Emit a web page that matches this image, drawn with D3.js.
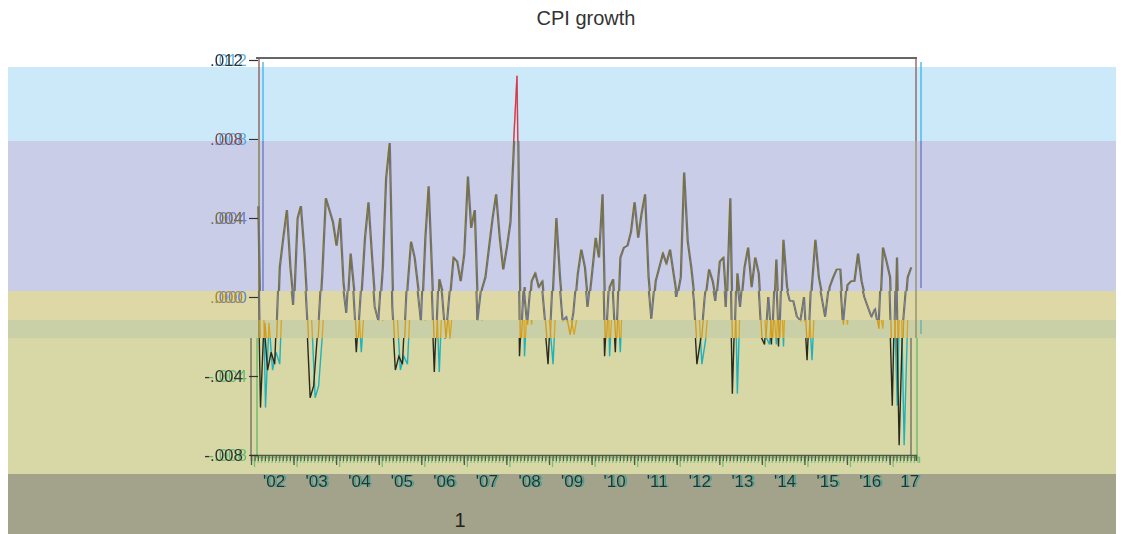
<!DOCTYPE html>
<html lang="en">
	<head>
		<meta charset="utf-8">
		<title>CPI growth</title>
		<script type="text/javascript" src="https://cdn.jsdelivr.net/npm/d3@7"></script>
		<style type="text/css">
			body { margin: 0; background: #fff; }
			text { font-family: "Liberation Sans", Arial, sans-serif; }
		</style>
	</head>
	<body>
		<script type="text/javascript">
			//Width and height
			var w = 1126;
			var h = 534;

			//Monthly observations, first one is March 2002
			var firstMonth = new Date(2002, 2, 1);

			//CPI growth, month on month
			var cpiGrowth = [
				0.0046, -0.0056, -0.0013, -0.0037, -0.0028, -0.0034, 0.0015, 0.0030, 0.0044, 0.0015,
				-0.0004, 0.0040, 0.0046, 0.0022, -0.0010, -0.0051, -0.0045, -0.0020, 0.0012, 0.0050,
				0.0044, 0.0038, 0.0026, 0.0040, 0.0007, -0.0008, 0.0022, 0.0003, -0.0028, 0.0000,
				0.0030, 0.0048, 0.0020, -0.0005, -0.0012, 0.0015, 0.0060, 0.0078, -0.0005, -0.0037,
				-0.0030, -0.0034, 0.0005, 0.0028, 0.0020, 0.0005, -0.0012, 0.0030, 0.0056, 0.0010,
				-0.0038, 0.0009, 0.0002, -0.0021, 0.0000, 0.0020, 0.0018, 0.0008, 0.0022, 0.0061,
				0.0035, 0.0044, -0.0012, 0.0004, 0.0010, 0.0025, 0.0040, 0.0052, 0.0030, 0.0014,
				0.0025, 0.0038, 0.0076, 0.0112, -0.0030, 0.0005, -0.0014, 0.0008, 0.0012, 0.0005,
				0.0008, -0.0012, -0.0034, 0.0005, 0.0040, 0.0010, -0.0012, -0.0010, -0.0019, -0.0008,
				0.0012, 0.0024, 0.0015, -0.0005, 0.0012, 0.0030, 0.0020, 0.0052, -0.0030, 0.0005,
				0.0009, -0.0028, 0.0020, 0.0025, 0.0026, 0.0033, 0.0048, 0.0030, 0.0042, 0.0052,
				0.0010, -0.0011, 0.0008, 0.0015, 0.0022, 0.0017, 0.0024, 0.0012, 0.0000, 0.0010,
				0.0063, 0.0028, 0.0015, -0.0002, -0.0034, -0.0022, 0.0000, 0.0014, 0.0008, -0.0002,
				0.0018, 0.0020, -0.0005, 0.0050, -0.0049, 0.0012, -0.0005, 0.0015, 0.0025, 0.0005,
				0.0020, 0.0012, -0.0020, -0.0024, 0.0000, -0.0024, 0.0019, -0.0025, 0.0029, 0.0005,
				-0.0002, -0.0002, -0.0010, -0.0012, 0.0000, -0.0032, 0.0005, 0.0029, 0.0010, 0.0000,
				-0.0010, 0.0005, 0.0010, 0.0014, 0.0014, -0.0014, 0.0006, 0.0008, 0.0008, 0.0022,
				0.0008, 0.0000, -0.0005, -0.0010, -0.0006, -0.0016, 0.0025, 0.0018, 0.0010, -0.0055,
				0.0020, -0.0075, -0.0012, 0.0010, 0.0015
			];

			//Tick values and labels
			var yTicks = [0.012, 0.008, 0.004, 0.000, -0.004, -0.008];
			var yTickLabels = [".012", ".008", ".004", ".000", "-.004", "-.008"];
			var xYears = [2002, 2003, 2004, 2005, 2006, 2007, 2008, 2009, 2010, 2011, 2012, 2013, 2014, 2015, 2016, 2017];
			var xTickLabels = ["'02", "'03", "'04", "'05", "'06", "'07", "'08", "'09", "'10", "'11", "'12", "'13", "'14", "'15", "'16", "17"];

			//Dates for every observation
			var months = cpiGrowth.map(function(d, i) {
				return d3.timeMonth.offset(firstMonth, i);
			});

			//Scales
			var x = d3.scaleTime()
			          .domain([new Date(2002, 0, 1), new Date(2017, 7, 15)])
			          .range([251, 916]);

			var y = d3.scaleLinear()
			          .domain([-0.008, 0.012])
			          .range([455, 60]);

			//Background bands, top to bottom
			var bands = [
				{ y0: 0,   y1: 67,  fill: "#ffffff" },
				{ y0: 67,  y1: 141, fill: "#cce9f9" },
				{ y0: 141, y1: 291, fill: "#c9cde8" },
				{ y0: 291, y1: 320, fill: "#ded8a6" },
				{ y0: 320, y1: 338, fill: "#c9cfa6" },
				{ y0: 338, y1: 474, fill: "#d7d8a6" },
				{ y0: 474, y1: 534, fill: "#a3a28a" }
			];

			//How the line looks inside each band
			var lineStyles = [
				[{ c: "#e58a96", dx: 0, sw: 1.6 }, { c: "#d23a4c", dx: 0, sw: 1.2 }],
				[{ c: "#6c7398", dx: 1, sw: 1.3 }, { c: "#7b7130", dx: 0, sw: 1.3 }],
				[{ c: "#7b7130", dx: -1, sw: 1.0 }, { c: "#6a7398", dx: 0, sw: 1.3 }],
				[{ c: "#d9a520", dx: 4, sw: 1.3 }, { c: "#d39a18", dx: 0, sw: 1.3 }],
				[{ c: "#1fb2bd", dx: 4, sw: 1.4 }, { c: "#2a2a1c", dx: -1, sw: 1.4 }]
			];

			//Create SVG element
			var svg = d3.select("body")
			            .append("svg")
			            .attr("width", w)
			            .attr("height", h);

			var defs = svg.append("defs");

			//Ghost copy filter: the text again, coloured and shifted a few pixels
			function ghostFilter(id, color, dx, dy) {
				var f = defs.append("filter")
				            .attr("id", id)
				            .attr("x", "-20%").attr("y", "-20%")
				            .attr("width", "160%").attr("height", "140%");
				f.append("feOffset").attr("in", "SourceAlpha").attr("dx", dx).attr("dy", dy).attr("result", "off");
				f.append("feFlood").attr("flood-color", color).attr("flood-opacity", 0.75).attr("result", "col");
				f.append("feComposite").attr("in", "col").attr("in2", "off").attr("operator", "in").attr("result", "ghost");
				var m = f.append("feMerge");
				m.append("feMergeNode").attr("in", "ghost");
				m.append("feMergeNode").attr("in", "SourceGraphic");
			}

			svg.append("rect")
			   .attr("width", w)
			   .attr("height", h)
			   .attr("fill", "#fff");

			svg.selectAll("rect.band")
			   .data(bands.slice(1))
			   .enter()
			   .append("rect")
			   .attr("class", "band")
			   .attr("x", 8)
			   .attr("width", 1108)
			   .attr("y", function(d) { return d.y0; })
			   .attr("height", function(d) { return d.y1 - d.y0; })
			   .attr("fill", function(d) { return d.fill; });

			//Title
			svg.append("text")
			   .attr("x", 586)
			   .attr("y", 25)
			   .attr("text-anchor", "middle")
			   .attr("font-size", 20)
			   .attr("fill", "#333")
			   .text("CPI growth");

			svg.append("text")
			   .attr("x", 460)
			   .attr("y", 527)
			   .attr("text-anchor", "middle")
			   .attr("font-size", 20)
			   .attr("fill", "#222")
			   .text("1");

			//Frame bits
			var frame = svg.append("g").attr("fill", "none");
			frame.append("line").attr("x1", 256).attr("x2", 917).attr("y1", 58).attr("y2", 58).attr("stroke", "#333").attr("stroke-width", 1.3);
			frame.append("line").attr("x1", 259).attr("x2", 259).attr("y1", 58).attr("y2", 141).attr("stroke", "#8a5550").attr("stroke-width", 1.3);
			frame.append("line").attr("x1", 259).attr("x2", 259).attr("y1", 141).attr("y2", 338).attr("stroke", "#7d7640").attr("stroke-width", 1.3);
			frame.append("line").attr("x1", 263).attr("x2", 263).attr("y1", 62).attr("y2", 141).attr("stroke", "#3ab4ea").attr("stroke-width", 1.3);
			frame.append("line").attr("x1", 263).attr("x2", 263).attr("y1", 141).attr("y2", 291).attr("stroke", "#6a74c0").attr("stroke-width", 1.3);
			frame.append("line").attr("x1", 251).attr("x2", 251).attr("y1", 338).attr("y2", 455).attr("stroke", "#6a6a5a").attr("stroke-width", 1.3);
			frame.append("line").attr("x1", 257).attr("x2", 257).attr("y1", 338).attr("y2", 457).attr("stroke", "#62b862").attr("stroke-width", 1.3);
			frame.append("line").attr("x1", 916).attr("x2", 916).attr("y1", 58).attr("y2", 141).attr("stroke", "#8a5a5a").attr("stroke-width", 1.3);
			frame.append("line").attr("x1", 916).attr("x2", 916).attr("y1", 141).attr("y2", 338).attr("stroke", "#8c8a60").attr("stroke-width", 1.3);
			frame.append("line").attr("x1", 911).attr("x2", 911).attr("y1", 338).attr("y2", 455).attr("stroke", "#6a6a5a").attr("stroke-width", 1.3);
			frame.append("line").attr("x1", 917).attr("x2", 917).attr("y1", 338).attr("y2", 457).attr("stroke", "#62b862").attr("stroke-width", 1.3);
			frame.append("line").attr("x1", 921).attr("x2", 921).attr("y1", 62).attr("y2", 141).attr("stroke", "#3ab4ea").attr("stroke-width", 1.3);
			frame.append("line").attr("x1", 921).attr("x2", 921).attr("y1", 141).attr("y2", 288).attr("stroke", "#6a74c0").attr("stroke-width", 1.3);
			frame.append("line").attr("x1", 921).attr("x2", 921).attr("y1", 320).attr("y2", 334).attr("stroke", "#5ab4a8").attr("stroke-width", 1.3);

			//Clip paths, one per band
			bands.slice(1, 6).forEach(function(b, i) {
				defs.append("clipPath")
				    .attr("id", "band" + i)
				    .append("rect")
				    .attr("x", 0)
				    .attr("width", w)
				    .attr("y", i == 0 ? 0 : b.y0)
				    .attr("height", b.y1 - (i == 0 ? 0 : b.y0));
			});

			//Line generator
			var line = d3.line()
			             .x(function(d, i) { return x(months[i]); })
			             .y(function(d) { return y(d); });

			lineStyles.forEach(function(styles, i) {
				var g = svg.append("g").attr("clip-path", "url(#band" + i + ")");
				styles.forEach(function(s) {
					g.append("path")
					 .datum(cpiGrowth)
					 .attr("d", line)
					 .attr("transform", "translate(" + s.dx + ",0)")
					 .attr("fill", "none")
					 .attr("stroke", s.c)
					 .attr("stroke-width", s.sw)
					 .attr("stroke-linejoin", "miter");
				});
			});

			//X axis, monthly minor ticks, yearly major ticks
			var xMinor = d3.axisBottom(x)
			               .ticks(d3.timeMonth.every(1))
			               .tickSize(6)
			               .tickFormat("");
			var xMajor = d3.axisBottom(x)
			               .ticks(d3.timeYear.every(1))
			               .tickSize(10)
			               .tickFormat("");

			[{ c: "#74c274", dx: 3, dy: 2 }, { c: "#55554a", dx: 0, dy: 0 }].forEach(function(s) {
				var gm = svg.append("g")
				            .attr("transform", "translate(" + s.dx + "," + (455 + s.dy) + ")")
				            .call(xMinor);
				gm.select(".domain").attr("stroke", s.c).attr("stroke-width", 1.4);
				gm.selectAll(".tick line").attr("stroke", s.c).attr("stroke-width", 1.1);
				var gM = svg.append("g")
				            .attr("transform", "translate(" + s.dx + "," + (455 + s.dy) + ")")
				            .call(xMajor);
				gM.select(".domain").remove();
				gM.selectAll(".tick line").attr("stroke", s.c).attr("stroke-width", 1.3);
			});

			//Year labels sit in the middle of each year, with a teal ghost copy
			ghostFilter("ghostX", "#2aa094", 2, 0);
			svg.selectAll(null)
			   .data(xYears)
			   .enter()
			   .append("text")
			   .attr("x", function(d) {
			     return x(new Date(d, 6, 1)) + (d == 2017 ? -1 : 2);
			   })
			   .attr("y", 487)
			   .attr("text-anchor", "middle")
			   .attr("font-size", 17)
			   .attr("fill", "#173838")
			   .attr("filter", "url(#ghostX)")
			   .text(function(d, i) { return xTickLabels[i]; });

			//Y axis
			var yAxis = d3.axisLeft(y)
			              .tickValues(yTicks)
			              .tickSize(9)
			              .tickPadding(5)
			              .tickFormat(function(d, i) { return yTickLabels[i]; });

			var gy = svg.append("g")
			            .attr("transform", "translate(258,0)")
			            .call(yAxis);
			gy.select(".domain").remove();
			gy.selectAll(".tick line").attr("stroke", "#333").attr("stroke-width", 1.2);

			//Y labels carry a coloured ghost copy
			var yCopyColors = ["#2a9ae0", "#2a9ae0", "#4a60c8", "#3a6ad0", "#3cb060", "#3cb060"];
			var yMainColors = ["#333333", "#8a4a40", "#7d7032", "#b08a20", "#333333", "#333333"];
			yCopyColors.forEach(function(c, i) { ghostFilter("ghostY" + i, c, 4, 0); });

			gy.selectAll(".tick text")
			  .attr("x", -15)
			  .attr("dy", "0.34em")
			  .attr("font-size", 17)
			  .attr("font-family", "Liberation Sans, Arial, sans-serif")
			  .attr("fill", function(d, i) { return yMainColors[i]; })
			  .attr("filter", function(d, i) { return "url(#ghostY" + i + ")"; });
		</script>
	</body>
</html>
